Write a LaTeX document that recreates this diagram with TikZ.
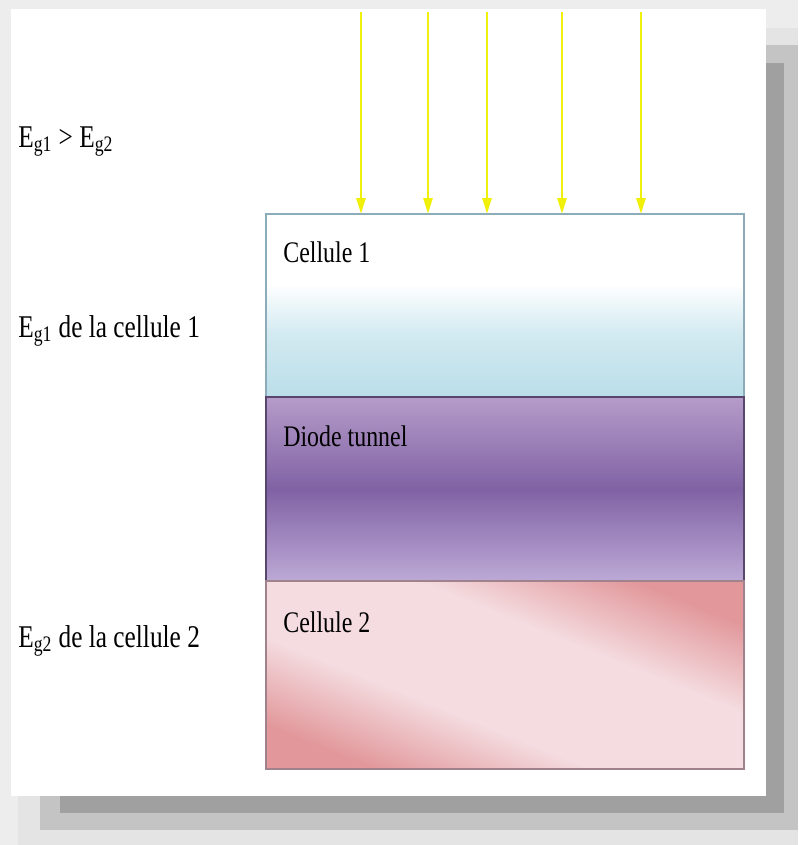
\documentclass[tikz,border=0pt]{standalone}
\usepackage{fontspec}
\setmainfont[FakeStretch=0.8]{Liberation Serif}
\usepackage{xcolor}
\usepackage{tikz}
\usetikzlibrary{arrows.meta, positioning}
\definecolor{bleucell}{RGB}{186,222,233}
\definecolor{bordbleu}{RGB}{140,172,186}
\definecolor{violetclair}{RGB}{181,156,201}
\definecolor{violetfonce}{RGB}{128,98,164}
\definecolor{bordviolet}{RGB}{88,70,110}
\definecolor{rosefonce}{RGB}{226,152,155}
\definecolor{roseclair}{RGB}{244,220,224}
\definecolor{bordrose}{RGB}{160,130,140}
\definecolor{jaune}{RGB}{240,240,10}
\definecolor{fondgris}{RGB}{237,237,237}
\definecolor{ombreclaire}{RGB}{228,228,228}
\definecolor{ombremoy}{RGB}{196,196,196}
\definecolor{ombrefonce}{RGB}{160,160,160}
\pgfdeclareverticalshading{celluleun}{100bp}{color(0bp)=(bleucell); color(25bp)=(bleucell);
  color(42bp)=(bleucell!65!white); color(56bp)=(white); color(100bp)=(white)}
\pgfdeclarehorizontalshading{celluledeux}{100bp}{color(0bp)=(rosefonce); color(25bp)=(rosefonce);
  color(40bp)=(roseclair); color(60bp)=(roseclair); color(75bp)=(rosefonce); color(100bp)=(rosefonce)}

\begin{document}
\begin{tikzpicture}[x=0.02cm, y=-0.02cm,
      couche/.style={draw, line width=0.8pt, minimum width=9.56cm,
                     inner sep=0pt, outer sep=0pt},
      etiq/.style={anchor=base west, inner sep=0pt, font=\fontsize{17}{19}\selectfont},
      legende/.style={anchor=base west, inner sep=0pt, font=\fontsize{18}{20}\selectfont},
      rayon/.style={-{Triangle[length=0.32cm, width=0.18cm]}, line width=1.5pt, color=jaune},
      >=Stealth]
    \useasboundingbox (0,0) rectangle (798,845);
    \fill[fondgris] (0,0) rectangle (798,845);
    \fill[ombreclaire] (18,28) rectangle (798,845);
    \fill[ombremoy] (40,45) rectangle (798,830);
    \fill[ombrefonce] (60,63) rectangle (784,813);
    \fill[white] (11,9) rectangle (766,796);
    \node[couche, minimum height=3.66cm, draw=bordbleu, shading=celluleun] (cell1) at (505,305.5) {};
    \node[couche, minimum height=3.68cm, draw=bordviolet, below=0pt of cell1,
          top color=violetclair, bottom color=violetclair!95!blue!80!white, middle color=violetfonce] (diode) {};
    \node[couche, minimum height=3.76cm, draw=bordrose, below=0pt of diode,
          shading=celluledeux, shading angle=68] (cell2) {};
    \node[etiq] (lab1) at (283,262) {Cellule 1};
    \node[etiq] (lab2) at (283,446) {Diode tunnel};
    \node[etiq] (lab3) at (283,632) {Cellule 2};
    \node[legende] (comparaison) at (18,147) {E\textsubscript{g1} > E\textsubscript{g2}};
    \node[legende] (gapun) at (18,337) {E\textsubscript{g1} de la cellule 1};
    \node[legende] (gapdeux) at (18,647) {E\textsubscript{g2} de la cellule 2};
    \foreach \i/\x in {1/361, 2/428, 3/487, 4/562, 5/641} {
      \coordinate (source\i) at (\x,12);
      \draw[rayon] (source\i) -- (source\i |- cell1.north);
    }
  \end{tikzpicture}
\end{document}
